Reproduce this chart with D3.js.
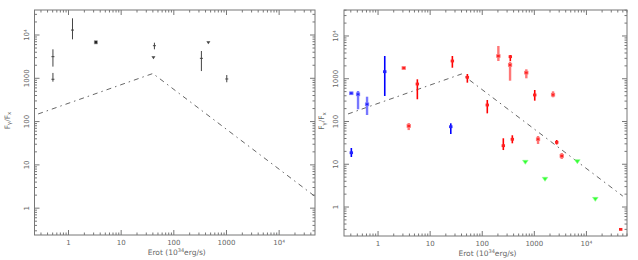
<!DOCTYPE html>
<html>
<head>
<meta charset="utf-8">
<script src="https://cdn.jsdelivr.net/npm/d3@7"></script>
<style>
  body { margin: 0; background: #fff; }
  svg text { font-family: "DejaVu Sans", sans-serif; fill: #666; }
</style>
</head>
<body>
<svg width="638" height="260"></svg>
<script>
// model curve shared by both panels
const modelX = [0.265, 40, 50000];
const modelY = [150, 1290, 1.8];

// left panel: x, y, low, high, kind
const leftX    = [0.506, 0.506, 1.19, 3.3, 42.8, 41, 334, 453, 1013];
const leftY    = [3160, 950, 13000, 6770, 5660, 2990, 2890, 6660, 964];
const leftLo   = [1860, 835, 7940, 6770, 4670, 2990, 1470, 6660, 809];
const leftHi   = [4670, 1330, 24300, 6770, 6640, 2990, 4270, 6660, 1190];
const leftKind = ["err", "err", "err", "box", "err", "lim", "err", "lim", "err"];

// right panel
const rightX = [0.307, 0.413, 0.615, 1.345, 24.9, 0.307,
  3.11, 5.68, 3.88, 26.7, 51.8, 125, 204, 346, 342, 702, 1018, 2286,
  254, 378, 1178, 2690, 3357, 45500,
  672, 1604, 6690, 14820];
const rightY = [457, 432, 252, 1462, 75.5, 18.6,
  1782, 753, 78.5, 2600, 1080, 243, 3400, 3280, 2100, 1387, 417, 424,
  27.2, 38.4, 38.4, 32.6, 15.6, 0.30,
  11.1, 4.45, 11.5, 1.51];
const rightLo = [430, 193, 142, 395, 51, 14.8,
  1700, 331, 63, 1810, 809, 155, 2600, 2600, 900, 1023, 307, 368,
  21.5, 30.9, 29.8, 29, 13.3, 0.30,
  11.1, 4.45, 11.5, 1.51];
const rightHi = [485, 516, 380, 3400, 90.7, 24,
  1870, 970, 92, 3400, 1290, 318, 5840, 3590, 2510, 1663, 546, 508,
  40.5, 47.6, 45.8, 36.9, 18.3, 0.30,
  11.1, 4.45, 11.5, 1.51];
const rightKind = ["blueL", "blueL", "blueL", "blue", "blue", "blue",
  "redL", "red", "redL", "red", "red", "red", "redL", "red", "redL", "redL", "red", "redL",
  "red", "red", "redL", "red", "redL", "red",
  "lim", "lim", "lim", "lim"];

const xTicks = [1, 10, 100, 1000, 10000];
const xTickLabels = ["1", "10", "100", "1000", "10⁴"];
const yTicks = [1, 10, 100, 1000, 10000];
const yTickLabels = ["1", "10", "100", "1000", "10⁴"];

const svg = d3.select("svg");

const colors = {
  red: "#ff0000", redL: "#ff7777",
  blue: "#0000ff", blueL: "#7777ff"
};

function drawPanel(box, xDom, yDom, pts, mode) {
  const x = d3.scaleLog().domain(xDom).range([box.x0, box.x1]);
  const y = d3.scaleLog().domain(yDom).range([box.y1, box.y0]);
  const g = svg.append("g");
  const axisCol = "#777";

  g.append("rect")
    .attr("x", box.x0).attr("y", box.y0)
    .attr("width", box.x1 - box.x0).attr("height", box.y1 - box.y0)
    .attr("fill", "none").attr("stroke", axisCol).attr("stroke-width", 1);

  // ticks on all four sides, pointing inward
  const minorX = [], minorY = [];
  for (let e = -1; e <= 5; e++) for (let m = 2; m <= 9; m++) {
    const v = m * Math.pow(10, e);
    if (v > xDom[0] && v < xDom[1]) minorX.push(v);
    if (v > yDom[0] && v < yDom[1]) minorY.push(v);
  }
  const tk = g.append("g").attr("stroke", axisCol).attr("stroke-width", 1);
  [[xTicks, 5], [minorX, 2.5]].forEach(([vals, len]) => {
    vals.forEach(v => {
      tk.append("line").attr("x1", x(v)).attr("x2", x(v)).attr("y1", box.y1).attr("y2", box.y1 - len);
      tk.append("line").attr("x1", x(v)).attr("x2", x(v)).attr("y1", box.y0).attr("y2", box.y0 + len);
    });
  });
  [[yTicks, 5], [minorY, 2.5]].forEach(([vals, len]) => {
    vals.forEach(v => {
      tk.append("line").attr("y1", y(v)).attr("y2", y(v)).attr("x1", box.x0).attr("x2", box.x0 + len);
      tk.append("line").attr("y1", y(v)).attr("y2", y(v)).attr("x1", box.x1).attr("x2", box.x1 - len);
    });
  });

  xTicks.forEach((v, i) => {
    g.append("text").attr("x", x(v)).attr("y", box.y1 + 10)
      .attr("text-anchor", "middle").attr("font-size", 7).text(xTickLabels[i]);
  });
  yTicks.forEach((v, i) => {
    g.append("text").attr("transform", `translate(${box.x0 - 6},${y(v)}) rotate(-90)`)
      .attr("text-anchor", "middle").attr("font-size", 7).text(yTickLabels[i]);
  });

  const xl = g.append("text").attr("x", (box.x0 + box.x1) / 2 + 2).attr("y", box.y1 + 20)
    .attr("text-anchor", "middle").attr("font-size", 7.5);
  xl.append("tspan").text("Erot (10");
  xl.append("tspan").attr("dy", -3).attr("font-size", 5).text("34");
  xl.append("tspan").attr("dy", 3).text("erg/s)");

  const yl = g.append("text").attr("transform", `translate(${box.x0 - box.ylab},${(box.y0 + box.y1) / 2 - 2}) rotate(-90)`)
    .attr("text-anchor", "middle").attr("font-size", 7.5);
  yl.append("tspan").text("F");
  yl.append("tspan").attr("font-size", 5.5).attr("dy", 1.5).text("γ");
  yl.append("tspan").attr("dy", -1.5).text("/F");
  yl.append("tspan").attr("font-size", 5.5).attr("dy", 1.5).text("x");

  // model curve
  const clipId = "clip" + mode;
  svg.append("clipPath").attr("id", clipId).append("rect")
    .attr("x", box.x0).attr("y", box.y0).attr("width", box.x1 - box.x0).attr("height", box.y1 - box.y0);
  g.append("path")
    .datum(modelX.map((v, i) => [v, modelY[i]]))
    .attr("clip-path", `url(#${clipId})`)
    .attr("d", d3.line().x(d => x(d[0])).y(d => y(d[1])))
    .attr("fill", "none").attr("stroke", "#555").attr("stroke-width", 0.9)
    .attr("stroke-dasharray", "5,4,1.5,4");

  // points
  pts.forEach(p => {
    const cx = x(p.x), cy = y(p.y);
    if (mode === "left") {
      const col = "#444";
      if (p.kind === "err") {
        g.append("line").attr("x1", cx).attr("x2", cx).attr("y1", y(p.lo)).attr("y2", y(p.hi))
          .attr("stroke", col).attr("stroke-width", 1);
        g.append("line").attr("x1", cx - 1.5).attr("x2", cx + 1.5).attr("y1", cy).attr("y2", cy)
          .attr("stroke", col).attr("stroke-width", 1);
      } else if (p.kind === "box") {
        g.append("rect").attr("x", cx - 1.6).attr("y", cy - 1.6).attr("width", 3.2).attr("height", 3.2)
          .attr("fill", "#222").attr("stroke", "#999").attr("stroke-width", 0.6);
      } else {
        g.append("path").attr("d", `M${cx - 2},${cy - 1.5}L${cx + 2},${cy - 1.5}L${cx},${cy + 1.5}Z`)
          .attr("fill", col);
      }
    } else {
      if (p.kind === "lim") {
        g.append("path").attr("d", `M${cx - 2.8},${cy - 2}L${cx + 2.8},${cy - 2}L${cx},${cy + 2}Z`)
          .attr("fill", "#33ff33").attr("stroke", "#88ff88").attr("stroke-width", 0.6);
        return;
      }
      const col = colors[p.kind];
      const light = p.kind.endsWith("L");
      if (y(p.lo) - y(p.hi) > 2) {
        g.append("line").attr("x1", cx).attr("x2", cx).attr("y1", y(p.lo)).attr("y2", y(p.hi))
          .attr("stroke", col).attr("stroke-width", light ? 2.4 : 1.6);
      }
      g.append("rect").attr("x", cx - 1.7).attr("y", cy - 1.4).attr("width", 3.4).attr("height", 2.8)
        .attr("fill", p.kind.startsWith("red") ? "#ff2222" : "#2222ff")
        .attr("stroke", light ? col : "none").attr("stroke-width", 0.8);
    }
  });
}

const leftPts = leftX.map((v, i) => ({ x: v, y: leftY[i], lo: leftLo[i], hi: leftHi[i], kind: leftKind[i] }));
const rightPts = rightX.map((v, i) => ({ x: v, y: rightY[i], lo: rightLo[i], hi: rightHi[i], kind: rightKind[i] }));

drawPanel({ x0: 34.5, x1: 315, y0: 10, y1: 235, ylab: 25 }, [0.226, 48000], [0.24, 37800], leftPts, "left");
drawPanel({ x0: 344, x1: 627, y0: 10, y1: 236, ylab: 20 }, [0.222, 60100], [0.21, 40500], rightPts, "right");
</script>
</body>
</html>
